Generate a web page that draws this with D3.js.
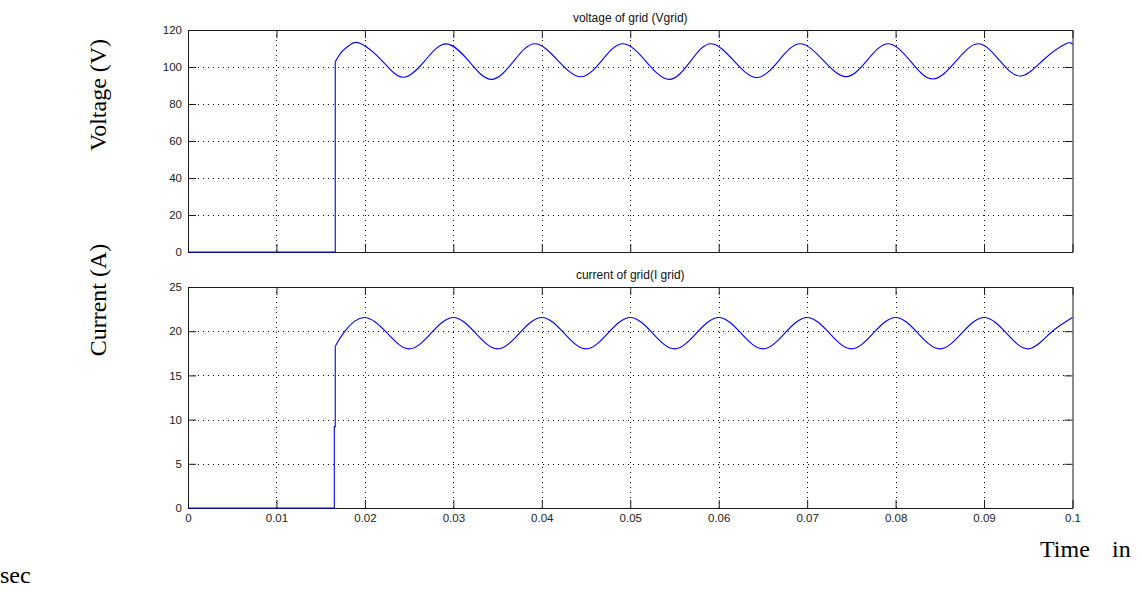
<!DOCTYPE html>
<html>
<head>
<meta charset="utf-8">
<script src="https://cdn.jsdelivr.net/npm/d3@7"></script>
<style>
  html, body { margin: 0; padding: 0; background: #fff; }
  svg { display: block; }
</style>
</head>
<body>
<svg id="chart" width="1141" height="592"></svg>
<script>
// ---------------- DATA ----------------
const xTicks = [0, 0.01, 0.02, 0.03, 0.04, 0.05, 0.06, 0.07, 0.08, 0.09, 0.1];
const xTickLabels = ["0", "0.01", "0.02", "0.03", "0.04", "0.05", "0.06", "0.07", "0.08", "0.09", "0.1"];
const vTicks = [0, 20, 40, 60, 80, 100, 120];
const iTicks = [0, 5, 10, 15, 20, 25];

const titles = ["voltage of grid (Vgrid)", "current of grid(I grid)"];
const yLabels = ["Voltage (V)", "Current (A)"];

// grid voltage (V) — first 3 points are the off-state and step
const vTime = [0, 0.01665, 0.01665, 0.0174, 0.0183, 0.0195, 0.0219, 0.0243, 0.0268, 0.0292,
  0.0318, 0.0343, 0.0368, 0.0392, 0.0418, 0.0444, 0.0468, 0.0492, 0.0518, 0.0544,
  0.0568, 0.0591, 0.0617, 0.0643, 0.0668, 0.0692, 0.0718, 0.0744, 0.0768, 0.0792,
  0.0817, 0.0842, 0.0868, 0.0893, 0.0917, 0.0941, 0.0967, 0.0992, 0.1];
const vVal = [0, 0, 102.9, 108.3, 111.9, 112.7, 103.6, 94.5, 103.5, 112.5,
  102.9, 93.3, 103.0, 112.6, 103.6, 94.7, 103.6, 112.6, 102.9, 93.3,
  103.0, 112.6, 103.4, 94.3, 103.5, 112.6, 103.7, 94.8, 103.7, 112.6,
  103.0, 93.5, 103.0, 112.6, 103.8, 95.1, 103.8, 112.4, 112.2];
const vStepCount = 3;

// grid current (A) — first 5 points are the off-state and two-stage step
const iTime = [0, 0.01654, 0.01654, 0.01665, 0.01665, 0.0177, 0.0199,
  0.0225, 0.025, 0.0275, 0.03, 0.0325, 0.035, 0.0375, 0.04, 0.0425, 0.045, 0.0475, 0.05,
  0.0525, 0.055, 0.0575, 0.06, 0.0625, 0.065, 0.0675, 0.07, 0.0725, 0.075, 0.0775, 0.08,
  0.0825, 0.085, 0.0875, 0.09, 0.0925, 0.095, 0.0975, 0.1];
const iVal = [0, 0, 9.2, 9.2, 18.3, 19.95, 21.55,
  19.8, 18.0, 19.8, 21.55, 19.8, 18.0, 19.8, 21.55, 19.8, 18.0, 19.8, 21.55,
  19.8, 18.0, 19.8, 21.55, 19.8, 18.0, 19.8, 21.55, 19.8, 18.0, 19.8, 21.55,
  19.8, 18.0, 19.8, 21.55, 19.8, 18.0, 19.8, 21.55];
const iStepCount = 5;

// ---------------- LAYOUT ----------------
const svg = d3.select("#chart");
const X0 = 188, X1 = 1072.5;
const panels = [
  { top: 30, bottom: 252, domain: [0, 120], ticks: vTicks, t: vTime, v: vVal, n: vStepCount, labels: false, title: titles[0], ylab: yLabels[0], ylabY: 95 },
  { top: 287, bottom: 508, domain: [0, 25], ticks: iTicks, t: iTime, v: iVal, n: iStepCount, labels: true, title: titles[1], ylab: yLabels[1], ylabY: 300 }
];

const x = d3.scaleLinear().domain([0, 0.1]).range([X0, X1]);
const sansFont = "'Liberation Sans', Arial, Helvetica, sans-serif";
const serifFont = "'Liberation Serif', 'Times New Roman', Times, serif";
const axisColor = "#1a1a1a";
const TL = 8;

panels.forEach(p => {
  const y = d3.scaleLinear().domain(p.domain).range([p.bottom, p.top]);
  const g = svg.append("g");

  // grid (dotted)
  g.append("g").selectAll("line").data(xTicks.filter(d => d > 0 && d < 0.1)).join("line")
    .attr("x1", d => Math.round(x(d)) + 0.5).attr("x2", d => Math.round(x(d)) + 0.5)
    .attr("y1", p.top).attr("y2", p.bottom)
    .attr("stroke", "#000").attr("stroke-width", 1).attr("stroke-dasharray", "1,4");
  g.append("g").selectAll("line").data(p.ticks.filter(d => d > p.domain[0] && d < p.domain[1])).join("line")
    .attr("x1", X0).attr("x2", X1)
    .attr("y1", d => Math.round(y(d)) + 0.5).attr("y2", d => Math.round(y(d)) + 0.5)
    .attr("stroke", "#000").attr("stroke-width", 1).attr("stroke-dasharray", "1,4");

  // axes
  const fmt = d => xTickLabels[xTicks.indexOf(d)];
  const axB = g.append("g").attr("transform", `translate(0,${p.bottom})`)
    .call(d3.axisBottom(x).tickValues(xTicks).tickSizeInner(-TL).tickSizeOuter(0).tickPadding(6)
      .tickFormat(p.labels ? fmt : () => ""));
  const axT = g.append("g").attr("transform", `translate(0,${p.top})`)
    .call(d3.axisTop(x).tickValues(xTicks).tickSizeInner(-TL).tickSizeOuter(0).tickFormat(() => ""));
  const axL = g.append("g").attr("transform", `translate(${X0},0)`)
    .call(d3.axisLeft(y).tickValues(p.ticks).tickSizeInner(-TL).tickSizeOuter(0).tickPadding(6)
      .tickFormat(d3.format("d")));
  const axR = g.append("g").attr("transform", `translate(${X1},0)`)
    .call(d3.axisRight(y).tickValues(p.ticks).tickSizeInner(-TL).tickSizeOuter(0).tickFormat(() => ""));
  [axB, axT, axL, axR].forEach(a => {
    a.selectAll("path,line").attr("stroke", axisColor);
    a.selectAll("text").attr("font-family", sansFont).attr("font-size", 11.5).attr("fill", "#222");
  });

  // series: step part (linear) + running part (smooth)
  const pts = p.t.map((t, i) => [t, p.v[i]]);
  const lineLin = d3.line().x(d => x(d[0])).y(d => y(d[1]));
  const lineSmooth = d3.line().x(d => x(d[0])).y(d => y(d[1])).curve(d3.curveNatural);
  g.append("path").attr("d", lineLin(pts.slice(0, p.n)))
    .attr("fill", "none").attr("stroke", "#0000ff").attr("stroke-width", 1.1);
  g.append("path").attr("d", lineSmooth(pts.slice(p.n - 1)))
    .attr("fill", "none").attr("stroke", "#0000ff").attr("stroke-width", 1.1);

  // title
  g.append("text").attr("x", (X0 + X1) / 2).attr("y", p.top - 8)
    .attr("text-anchor", "middle").attr("font-family", sansFont).attr("font-size", 12)
    .attr("fill", "#111").text(p.title);

  // y label
  g.append("text").attr("transform", `translate(106,${p.ylabY}) rotate(-90)`)
    .attr("text-anchor", "middle").attr("font-family", serifFont).attr("font-size", 24)
    .attr("fill", "#000").text(p.ylab);
});

// x label ("Time   in" ... "sec")
svg.append("text").attr("x", 1040).attr("y", 557).attr("font-family", serifFont).attr("font-size", 24).text("Time");
svg.append("text").attr("x", 1112).attr("y", 557).attr("font-family", serifFont).attr("font-size", 24).text("in");
svg.append("text").attr("x", 0).attr("y", 583).attr("font-family", serifFont).attr("font-size", 24).text("sec");
</script>
</body>
</html>
